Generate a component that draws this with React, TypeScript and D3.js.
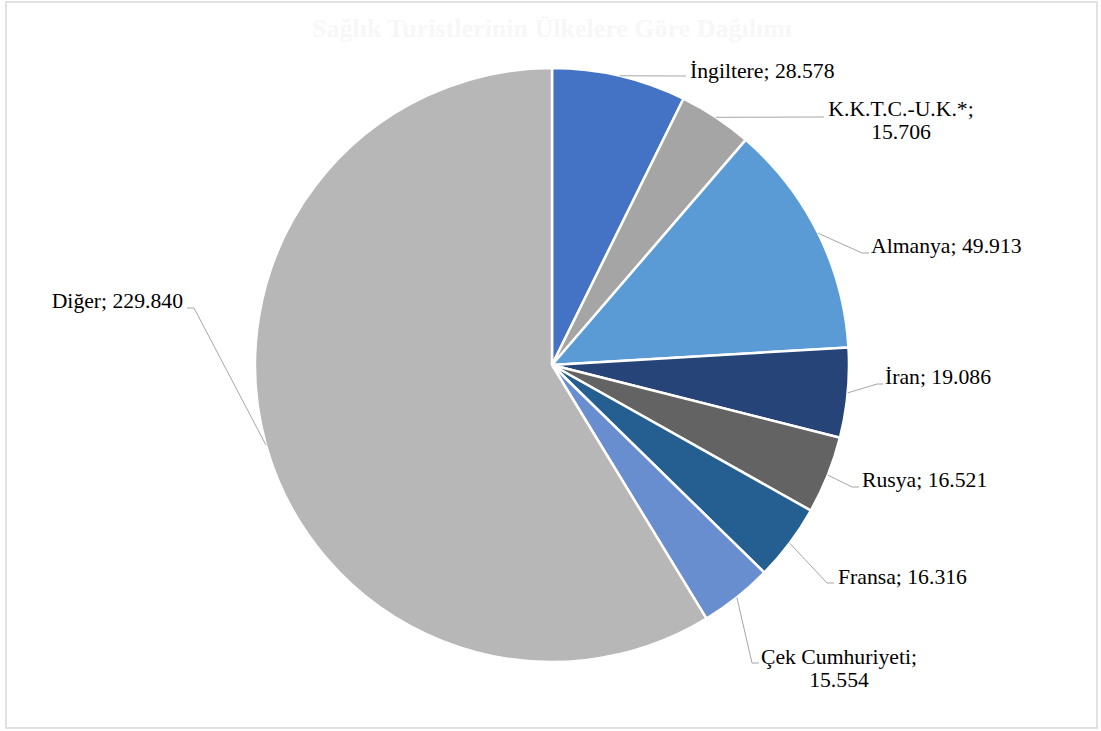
import React from "react";
import * as d3 from "d3";

// ---- data ----
const countries = ["İngiltere", "K.K.T.C.-U.K.*", "Almanya", "İran", "Rusya", "Fransa", "Çek Cumhuriyeti", "Diğer"];
const values = [28578, 15706, 49913, 19086, 16521, 16316, 15554, 229840];
const colors = ["#4472C4", "#A5A5A5", "#5B9BD5", "#264478", "#636363", "#255E91", "#698ED0", "#B7B7B7"];
const title = "Sağlık Turistlerinin Ülkelere Göre Dağılımı";

// ---- layout (label placement, px) ----
type LabelLayout = { elbow: [number, number] | null; end: [number, number]; tx: number; ty: number; anchor: "start" | "middle" | "end"; wrap: boolean };
const labelLayout: LabelLayout[] = [
  { elbow: null, end: [686, 76], tx: 690, ty: 78, anchor: "start", wrap: false },
  { elbow: null, end: [824, 117], tx: 901, ty: 116, anchor: "middle", wrap: true },
  { elbow: [862, 253], end: [869, 253], tx: 871, ty: 253, anchor: "start", wrap: false },
  { elbow: [877, 384], end: [883, 384], tx: 885, ty: 384, anchor: "start", wrap: false },
  { elbow: [852, 487], end: [859, 487], tx: 862, ty: 487, anchor: "start", wrap: false },
  { elbow: [827, 583], end: [834, 583], tx: 838, ty: 584, anchor: "start", wrap: false },
  { elbow: [752, 663], end: [759, 663], tx: 839, ty: 664, anchor: "middle", wrap: true },
  { elbow: [194, 308], end: [187, 308], tx: 183, ty: 308, anchor: "end", wrap: false },
];

const W = 1101;
const H = 731;
const cx = 552;
const cy = 365;
const R = 297;
const fontSize = 21.7;
const lineH = 22.5;

const trLocale = d3.formatLocale({ decimal: ",", thousands: ".", grouping: [3], currency: ["", ""] });
const fmt = trLocale.format(",d");

export default function App() {
  const pie = d3
    .pie<number>()
    .sort(null)
    .value((d) => d)
    .startAngle(0)
    .endAngle(2 * Math.PI);
  const arcs = pie(values);
  const arc = d3.arc<d3.PieArcDatum<number>>().innerRadius(0).outerRadius(R);

  return (
    <svg
      width={W}
      height={H}
      style={{ position: "absolute", left: 0, top: 0, background: "#fff" }}
      fontFamily="'Liberation Serif', 'Times New Roman', serif"
    >
      <rect x={6} y={2} width={1091} height={726} fill="#fff" stroke="#d9d9d9" strokeWidth={1.5} />
      <text x={cx} y={37} textAnchor="middle" fontSize={26} fontWeight="bold" fill="#f7f7f7">
        {title}
      </text>
      <g transform={`translate(${cx},${cy})`}>
        {arcs.map((a, i) => (
          <path key={i} d={arc(a) || ""} fill={colors[i]} stroke="#fff" strokeWidth={2.5} strokeLinejoin="round" />
        ))}
      </g>
      {arcs.map((a, i) => {
        const mid = (a.startAngle + a.endAngle) / 2;
        const sx = cx + R * Math.sin(mid);
        const sy = cy - R * Math.cos(mid);
        const L = labelLayout[i];
        const pts: [number, number][] = [[sx, sy]];
        if (L.elbow) pts.push(L.elbow);
        pts.push(L.end);
        const line = d3.line()(pts) || "";
        const full = `${countries[i]}; ${fmt(values[i])}`;
        const lines = L.wrap ? [`${countries[i]};`, fmt(values[i])] : [full];
        return (
          <g key={"l" + i}>
            <path d={line} fill="none" stroke="#a6a6a6" strokeWidth={1} />
            <text x={L.tx} y={L.ty} textAnchor={L.anchor} fontSize={fontSize} fill="#000">
              {lines.map((t, j) => (
                <tspan key={j} x={L.tx} dy={j === 0 ? 0 : lineH}>
                  {t}
                </tspan>
              ))}
            </text>
          </g>
        );
      })}
    </svg>
  );
}
